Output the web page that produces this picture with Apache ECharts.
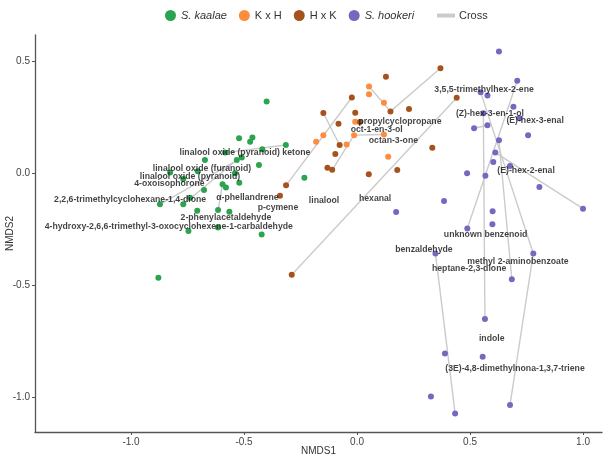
<!DOCTYPE html>
<html>
<head>
<meta charset="utf-8">
<script src="https://cdn.jsdelivr.net/npm/echarts@6/dist/echarts.min.js"></script>
<style>
  html, body { margin: 0; padding: 0; background: #fff; }
  #chart { width: 606px; height: 455px; }
</style>
</head>
<body>
<div id="chart"></div>
<script>
// NMDS scores per group: [NMDS1, NMDS2]
var kaalae = [
  [-0.400, 0.321], [-0.522, 0.157], [-0.463, 0.160], [-0.473, 0.141], [-0.419, 0.108],
  [-0.315, 0.127], [-0.584, 0.093], [-0.673, 0.060], [-0.532, 0.060], [-0.510, 0.071],
  [-0.434, 0.038], [-0.705, 0.010], [-0.827, 0.004], [-0.540, 0.001], [-0.769, -0.025],
  [-0.521, -0.041], [-0.595, -0.048], [-0.580, -0.063], [-0.677, -0.074], [-0.739, -0.108],
  [-0.872, -0.138], [-0.769, -0.138], [-0.233, -0.019], [-0.707, -0.167], [-0.615, -0.163],
  [-0.565, -0.171], [-0.746, -0.257], [-0.615, -0.241], [-0.422, -0.272], [-0.879, -0.465]
]
var kxh = [
  [0.053, 0.388], [0.053, 0.354], [0.119, 0.316], [-0.008, 0.231], [-0.013, 0.171],
  [0.119, 0.174], [-0.149, 0.171], [-0.181, 0.141], [-0.046, 0.129], [0.138, 0.075]
]
var hxk = [
  [0.369, 0.470], [0.128, 0.432], [-0.023, 0.339], [-0.149, 0.270], [-0.008, 0.271],
  [0.148, 0.277], [0.230, 0.288], [-0.082, 0.222], [0.013, 0.230], [-0.077, 0.127],
  [-0.096, 0.087], [0.441, 0.338], [0.333, 0.115], [-0.131, 0.025], [-0.110, 0.016],
  [0.178, 0.015], [0.052, -0.004], [-0.314, -0.053], [-0.341, -0.100], [-0.289, -0.452]
]
var hookeri = [
  [0.628, 0.544], [0.709, 0.414], [0.547, 0.363], [0.577, 0.348], [0.692, 0.298],
  [0.559, 0.269], [0.718, 0.246], [0.518, 0.202], [0.577, 0.215], [0.757, 0.171],
  [0.628, 0.148], [0.612, 0.093], [0.603, 0.051], [0.677, 0.033], [0.487, 0.001],
  [0.568, -0.010], [0.807, -0.060], [0.385, -0.123], [1.000, -0.157], [0.173, -0.172],
  [0.600, -0.169], [0.599, -0.227], [0.488, -0.246], [0.347, -0.357], [0.780, -0.357],
  [0.685, -0.472], [0.566, -0.650], [0.389, -0.804], [0.556, -0.818], [0.327, -0.996],
  [0.434, -1.071], [0.677, -1.033]
]

// grey "Cross" segments: [x1, y1, x2, y2]
var crossSegs = [
  [0.369, 0.470, 0.148, 0.277],
  [-0.013, 0.171, -0.110, 0.016],
  [-0.013, 0.171, 0.119, 0.174],
  [0.053, 0.388, 0.148, 0.277],
  [-0.149, 0.270, -0.077, 0.127],
  [-0.023, 0.339, -0.314, -0.053],
  [0.441, 0.338, -0.289, -0.452],
  [-0.315, 0.127, -0.584, 0.093],
  [-0.510, 0.071, -0.872, -0.138],
  [-0.532, 0.060, -0.769, -0.138],
  [-0.595, -0.048, -0.615, -0.163],
  [0.547, 0.363, 0.780, -0.357],
  [0.780, -0.357, 0.677, -1.033],
  [0.709, 0.414, 0.488, -0.246],
  [0.559, 0.269, 0.566, -0.650],
  [0.518, 0.202, 0.577, 0.215],
  [0.628, 0.148, 0.685, -0.472],
  [0.612, 0.093, 1.000, -0.157],
  [0.347, -0.357, 0.434, -1.071]
]

// compound labels and where they sit
var compoundNames = [
  'linalool oxide (pyranoid) ketone', 'linalool oxide (furanoid)', 'linalool oxide (pyranoid)',
  '4-oxoisophorone', '2,2,6-trimethylcyclohexane-1,4-dione', 'α-phellandrene', 'p-cymene',
  '2-phenylacetaldehyde', '4-hydroxy-2,6,6-trimethyl-3-oxocyclohexene-1-carbaldehyde',
  'linalool', 'hexanal', 'propylcyclopropane', 'oct-1-en-3-ol', 'octan-3-one',
  '3,5,5-trimethylhex-2-ene', '(Z)-hex-3-en-1-ol', '(E)-hex-3-enal', '(E)-hex-2-enal',
  'unknown benzenoid', 'benzaldehyde', 'methyl 2-aminobenzoate', 'heptane-2,3-dione',
  'indole', '(3E)-4,8-dimethylnona-1,3,7-triene'
]
var compoundPos = [
  [-0.496, 0.094], [-0.686, 0.023], [-0.739, -0.016],
  [-0.830, -0.047], [-1.004, -0.118], [-0.485, -0.106], [-0.350, -0.151],
  [-0.580, -0.196], [-0.833, -0.238],
  [-0.146, -0.121], [0.080, -0.111], [0.190, 0.230], [0.087, 0.197], [0.161, 0.146],
  [0.562, 0.376], [0.588, 0.266], [0.788, 0.234], [0.748, 0.013],
  [0.569, -0.273], [0.296, -0.338], [0.712, -0.395], [0.496, -0.423],
  [0.596, -0.739], [0.699, -0.870]
]

var tickVals = [-1, -0.5, 0, 0.5, 1]

var myChart = echarts.init(document.getElementById('chart'))

function pts (name, data, color) {
  return {
    name: name,
    type: 'scatter',
    data: data,
    symbolSize: 6,
    itemStyle: { color: color, opacity: 1 },
    z: 3
  }
}

var labelData = compoundNames.map(function (n, i) {
  return { name: n, value: compoundPos[i] }
})

var axisCommon = {
  type: 'value',
  nameLocation: 'middle',
  nameMoveOverlap: false,
  nameTextStyle: { fontFamily: 'Liberation Sans', fontSize: 10, color: '#333' },
  axisLine: { onZero: false, lineStyle: { color: '#555', width: 1.3 } },
  axisTick: { show: true, length: 3, customValues: tickVals, lineStyle: { color: '#555' } },
  axisLabel: {
    customValues: tickVals,
    fontFamily: 'Liberation Sans', fontSize: 10, color: '#444', margin: 5,
    formatter: function (v) { return v.toFixed(1) }
  },
  splitLine: { show: false }
}

myChart.setOption({
  animation: false,
  legend: [
    {
      data: ['S. kaalae', 'K x H', 'H x K', 'S. hookeri'],
      left: 160,
      top: 5,
      icon: 'circle',
      itemWidth: 11,
      itemHeight: 11,
      itemGap: 12,
      textStyle: {
        fontFamily: 'Liberation Sans',
        fontSize: 11,
        color: '#333',
        rich: { i: { fontStyle: 'italic', fontFamily: 'Liberation Sans', fontSize: 11, color: '#333' } }
      },
      formatter: function (name) {
        return name.indexOf('S.') === 0 ? '{i|' + name + '}' : name
      }
    },
    {
      data: ['Cross'],
      left: 432,
      top: 5,
      icon: 'rect',
      itemWidth: 16,
      itemHeight: 2,
      textStyle: { fontFamily: 'Liberation Sans', fontSize: 11, color: '#333' }
    }
  ],
  grid: { left: 35, right: 4, top: 35, bottom: 23, outerBoundsMode: 'none', containLabel: false },
  xAxis: Object.assign({}, axisCommon, { min: -1.425, max: 1.084, name: 'NMDS1', nameGap: 14 }),
  yAxis: Object.assign({}, axisCommon, { min: -1.154, max: 0.618, name: 'NMDS2', nameGap: 20 }),
  series: [
    {
      name: 'Cross',
      type: 'lines',
      coordinateSystem: 'cartesian2d',
      data: crossSegs.map(function (s) { return { coords: [[s[0], s[1]], [s[2], s[3]]] } }),
      lineStyle: { color: '#cbcbcb', width: 1.4, opacity: 1 },
      itemStyle: { color: '#cbcbcb' },
      z: 1
    },
    pts('S. kaalae', kaalae, '#2ca34f'),
    pts('K x H', kxh, '#fd8d3c'),
    pts('H x K', hxk, '#a6521e'),
    pts('S. hookeri', hookeri, '#7469c0'),
    {
      name: 'compounds',
      type: 'scatter',
      data: labelData,
      symbolSize: 1,
      itemStyle: { color: 'rgba(0,0,0,0)' },
      label: {
        show: true,
        position: 'inside',
        formatter: '{b}',
        fontFamily: 'Liberation Sans',
        fontWeight: 'bold',
        fontSize: 8.7,
        color: '#111',
        textBorderWidth: 0,
        textShadowBlur: 0
      },
      labelLayout: { hideOverlap: false },
      z: 5
    }
  ]
})
</script>
</body>
</html>
